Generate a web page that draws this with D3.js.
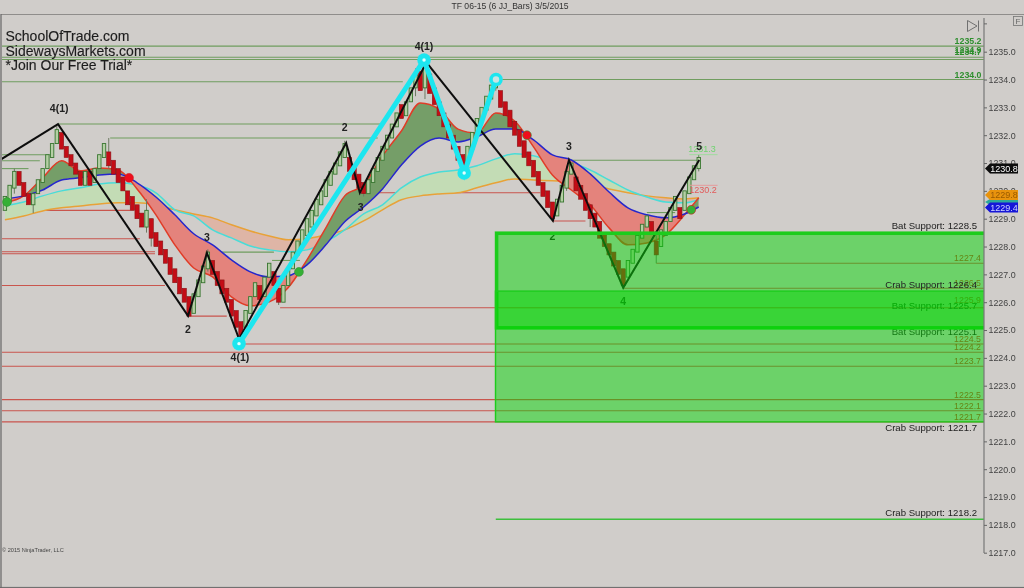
<!DOCTYPE html>
<html><head><meta charset="utf-8">
<script src="https://d3js.org/d3.v7.min.js"></script>
<style>html,body{margin:0;padding:0;background:#d0cdca;overflow:hidden}svg{display:block}text{font-family:"Liberation Sans",Arial,sans-serif}</style>
</head><body><svg id="c" width="1024" height="588"></svg>
<script>
// ---- data ----
const timeLabels = ["08:04:56","08:11:37","08:39:24","09:30:04","09:31:58","09:33:21","09:36:26","09:44:02","09:48:55","09:54:53","10:05:17","10:45:31","11:15:37","12:01:08","12:20:02","12:43:32","12:55:38","13:20:27","13:39:30","14:16:17","14:58:45","15:41:13","16:23:41","17:06:09","17:48:37","18:31:05"];
const barOpen = [1229.3,1229.6,1230.1,1230.7,1230.3,1229.9,1229.5,1229.9,1230.3,1230.8,1231.2,1231.7,1232.1,1231.6,1231.3,1231.0,1230.7,1230.2,1230.7,1230.3,1230.8,1231.2,1231.4,1231.1,1230.8,1230.5,1230.0,1229.8,1229.5,1229.2,1228.7,1229.0,1228.5,1228.2,1227.9,1227.6,1227.2,1226.9,1226.5,1226.2,1225.6,1226.2,1226.7,1227.2,1227.5,1227.1,1226.8,1226.5,1226.1,1225.7,1225.3,1225.1,1225.6,1226.2,1226.6,1226.2,1226.9,1227.1,1226.5,1226.0,1226.6,1227.2,1227.7,1228.0,1228.4,1228.7,1229.1,1229.5,1229.8,1230.2,1230.6,1230.9,1231.2,1231.2,1230.9,1230.6,1230.3,1229.9,1230.3,1230.7,1231.1,1231.5,1231.9,1232.3,1233.1,1232.7,1233.2,1233.7,1234.3,1233.7,1234.2,1233.7,1233.2,1232.8,1232.4,1232.0,1231.6,1231.3,1231.0,1231.5,1232.0,1232.5,1232.9,1233.3,1233.7,1233.6,1233.2,1232.9,1232.5,1232.2,1231.8,1231.4,1231.1,1230.7,1230.3,1230.0,1229.6,1229.1,1229.6,1230.1,1230.6,1230.5,1230.2,1229.9,1229.5,1229.2,1228.9,1228.5,1228.1,1227.8,1227.5,1227.2,1226.9,1227.4,1227.8,1228.3,1228.7,1228.9,1228.2,1228.0,1228.4,1228.9,1229.3,1229.4,1229.3,1229.9,1230.4,1230.8];
const barClose = [1229.8,1230.2,1230.7,1230.2,1229.8,1229.5,1229.9,1230.4,1230.8,1231.3,1231.7,1232.2,1231.5,1231.2,1230.9,1230.6,1230.2,1230.7,1230.2,1230.8,1231.3,1231.7,1230.9,1230.6,1230.3,1230.0,1229.5,1229.3,1229.0,1228.7,1229.3,1228.3,1228.0,1227.7,1227.4,1227.0,1226.7,1226.3,1226.0,1225.5,1226.3,1226.8,1227.3,1227.8,1227.0,1226.6,1226.3,1226.0,1225.5,1225.1,1224.8,1225.7,1226.2,1226.7,1226.1,1226.9,1227.4,1226.6,1226.0,1226.6,1227.2,1227.8,1228.2,1228.6,1229.0,1229.3,1229.7,1230.0,1230.4,1230.7,1231.0,1231.4,1231.7,1230.7,1230.4,1230.1,1229.9,1230.4,1230.8,1231.2,1231.6,1232.0,1232.4,1232.8,1232.6,1233.2,1233.7,1234.2,1233.6,1234.5,1233.5,1233.1,1232.7,1232.3,1231.9,1231.5,1231.1,1230.7,1231.6,1232.1,1232.6,1233.0,1233.4,1233.8,1234.0,1233.0,1232.7,1232.3,1232.0,1231.6,1231.2,1230.9,1230.5,1230.2,1229.8,1229.4,1229.0,1229.7,1230.2,1230.7,1231.0,1230.0,1229.7,1229.3,1229.0,1228.7,1228.3,1228.0,1227.7,1227.3,1227.0,1226.6,1227.5,1227.9,1228.4,1228.8,1229.1,1228.5,1227.7,1228.6,1228.9,1229.4,1229.8,1229.0,1230.0,1230.5,1230.9,1231.2];
const wickIdx  = [2,6,11,22,30,31,43,58,72,76,87,89,97,104,119,124,138,147];
const wickHigh = [1230.8,1229.9,1232.4,1231.9,1229.7,1229.0,1227.9,1226.5,1231.8,1230.3,1234.4,1234.6,1231.3,1234.1,1230.9,1229.3,1228.4,1231.3];
const wickLow  = [1229.9,1229.2,1231.7,1230.8,1228.5,1228.0,1227.1,1225.9,1231.2,1229.8,1233.4,1233.3,1230.6,1233.6,1230.0,1228.7,1227.4,1230.7];

const maIdx = [0,4,8,12,16,20,24,28,32,36,40,44,48,52,56,60,64,68,72,76,80,84,88,92,96,100,104,108,112,116,120,124,128,132,136,140,144,147];
const maRed = [1229.57,1229.82,1230.47,1231.08,1230.72,1230.82,1230.75,1230.07,1229.14,1228.06,1227.23,1226.91,1226.19,1225.87,1226.01,1226.52,1227.52,1228.67,1229.82,1230.21,1231.26,1232.15,1233.16,1232.94,1232.22,1232.08,1232.80,1232.51,1231.58,1230.57,1230.03,1229.50,1228.67,1228.06,1228.13,1228.42,1229.14,1229.75];
const maBlue = [1229.71,1229.82,1230.03,1230.39,1230.47,1230.57,1230.61,1230.29,1229.78,1229.14,1228.46,1228.06,1227.52,1227.09,1226.91,1226.95,1227.34,1228.06,1228.89,1229.42,1230.07,1230.93,1231.61,1231.90,1231.76,1231.94,1232.22,1232.22,1231.83,1231.29,1231.11,1230.61,1229.96,1229.39,1229.14,1229.03,1229.17,1229.42];
const maCyan = [1229.46,1229.60,1229.82,1230.00,1230.11,1230.25,1230.29,1230.21,1229.93,1229.32,1229.10,1228.60,1228.31,1228.02,1227.88,1227.81,1227.88,1228.17,1228.60,1229.17,1229.50,1230.11,1230.50,1230.68,1230.75,1230.90,1231.15,1231.33,1231.26,1231.08,1231.00,1230.75,1230.39,1230.03,1229.78,1229.60,1229.57,1229.68];
const maOrange = [1228.96,1229.10,1229.28,1229.39,1229.46,1229.53,1229.57,1229.57,1229.50,1229.32,1229.17,1229.03,1228.78,1228.56,1228.38,1228.24,1228.28,1228.42,1228.60,1228.92,1229.32,1229.68,1229.82,1229.89,1229.93,1230.11,1230.29,1230.43,1230.39,1230.36,1230.32,1230.21,1230.07,1229.93,1229.82,1229.75,1229.71,1229.75];

const zigIdx = [-1.04,11.25,38.8,42.8,49.6,72.3,75.2,89.3,116.1,119.5,131,147.1];
const zigPrice = [1231.11,1232.40,1225.51,1227.77,1224.68,1231.72,1229.93,1234.62,1228.92,1231.11,1226.52,1231.11];
const cyanIdx = [49.6,88.8,97.3,104.05];
const cyanPrice = [1224.51,1234.70,1230.64,1234.0];
const sigIdx = [0.45,26.3,62.3,110.6,145.4];
const sigPrice = [1229.6,1230.47,1227.09,1232.0,1229.32];
const sigColor = ["#35b035","#ee0f1c","#35b035","#ee0f1c","#35b035"];

const waveText = ["4(1)","2","3","4(1)","2","3","4(1)","3","2","4"];
const waveIdx = [11.5,38.8,42.8,49.8,72,75.4,88.8,119.5,116,131];
const wavePrice = [1232.95,1225.02,1228.32,1224.0,1232.28,1229.42,1235.2,1231.6,1228.35,1226.02];

const END = 207.4, LEFT = -1.04;
const greenPrice = [1235.2,1234.8,1234.72,1233.92,1234.0,1232.4,1231.9,1231.3,1231.08,1230.8,1231.1,1227.8,1229.22,1227.5];
const greenFrom  = [LEFT,LEFT,LEFT,LEFT,104,11.3,22.3,LEFT,LEFT,LEFT,119.7,43,136,56.6];
const greenTo    = [END,END,END,84.3,END,79.5,79,9.6,7.4,5,147,57,142,62.5];
const redPrice = [1228.28,1227.81,1227.74,1226.6,1225.5,1229.3,1230.03,1225.8,1224.5,1224.2,1223.7,1222.5,1222.1,1221.7,1229.93,1230.65,1228.92,1226.5,1227.4];
const redFrom  = [LEFT,LEFT,LEFT,LEFT,39,5.1,17,58.3,49.6,LEFT,LEFT,LEFT,LEFT,LEFT,75.2,97.3,116,131,138];
const redTo    = [28.6,31.8,31.8,33.9,47,26.5,24.4,END,END,END,END,END,END,END,113.4,111.2,123,END,END];
const greenTags = ["1235.2","1234.9","1234.7","1234.0"];
const greenTagPrice = [1235.2,1234.88,1234.82,1234.0];
const redTags = ["1227.4","1226.5","1225.9","1224.5","1224.2","1223.7","1222.5","1222.1","1221.7"];
const redTagPrice = [1227.4,1226.5,1225.9,1224.5,1224.2,1223.7,1222.5,1222.1,1221.7];

const zoneTop = [1228.5,1226.4];
const zoneBottom = [1225.1,1221.7];
const supportLine = 1218.2;
const markerPrice = [1229.6,1230.8,1229.85,1229.4];
const markerText = ["","1230.8","1229.8","1229.4"];
const markerFill = ["#2ea89a","#0a0a0a","#e8930f","#1212d8"];
const markerInk = ["#fff","#fff","#9a5a00","#cfd4ff"];

// ---- scales ----
const x = d3.scaleLinear().domain([0,200]).range([4.9,948.9]);
const y = d3.scaleLinear().domain([1235,1217]).range([51.7,552.7]);
const svg = d3.select("#c");
const BG="#d0cdca";
svg.append("rect").attr("width",1024).attr("height",588).attr("fill",BG);
const defs = svg.append("defs");
defs.append("filter").attr("id","soft").attr("x","-2%").attr("y","-2%").attr("width","104%").attr("height","104%")
  .append("feGaussianBlur").attr("stdDeviation",0.4);
defs.append("clipPath").attr("id","plot").append("rect").attr("x",2).attr("y",15).attr("width",982).attr("height",538);
defs.append("clipPath").attr("id","xclip").append("rect").attr("x",2).attr("y",550).attr("width",1022).attr("height",30);
const root = svg.append("g").attr("filter","url(#soft)");

// title + frame
root.append("text").attr("x",510).attr("y",9).attr("text-anchor","middle").attr("font-size",8.6).attr("fill","#333").text("TF 06-15 (6 JJ_Bars)  3/5/2015");
root.append("line").attr("x1",1).attr("x2",1024).attr("y1",14.5).attr("y2",14.5).attr("stroke","#8f8d8b").attr("stroke-width",1.2);
root.append("line").attr("x1",1).attr("x2",1).attr("y1",14).attr("y2",588).attr("stroke","#666").attr("stroke-width",1.2);
root.append("line").attr("x1",0).attr("x2",1024).attr("y1",587.4).attr("y2",587.4).attr("stroke","#666");

const plot = root.append("g").attr("clip-path","url(#plot)");

// levels
const drawLevels=(price,from,to,color)=>plot.append("g").selectAll("line").data(price).join("line")
  .attr("x1",(d,i)=>x(from[i])).attr("x2",(d,i)=>x(to[i])).attr("y1",d=>y(d)).attr("y2",d=>y(d))
  .attr("stroke",color).attr("stroke-width",1.1);
drawLevels(greenPrice,greenFrom,greenTo,"#6f9d5f");
drawLevels(redPrice,redFrom,redTo,"#c9544e");
plot.append("g").selectAll("text").data(greenTags).join("text").attr("x",981.5).attr("y",(d,i)=>y(greenTagPrice[i])-2)
  .attr("text-anchor","end").attr("font-size",8.8).attr("font-weight","bold").attr("fill","#2f8f2f").text(d=>d);
plot.append("g").selectAll("text").data(redTags).join("text").attr("x",981).attr("y",(d,i)=>y(redTagPrice[i])-2)
  .attr("text-anchor","end").attr("font-size",8.8).attr("fill","#c0392b").text(d=>d);

// moving-average bands
const px = (_,i)=>x(maIdx[i]);
const curve = d3.curveMonotoneX;
function band(id,top,bot,colUp,colDn){
  const above=d3.area().x(px).y0(0).y1((_,i)=>y(bot[i])).curve(curve);
  const below=d3.area().x(px).y0(588).y1((_,i)=>y(bot[i])).curve(curve);
  const between=d3.area().x(px).y0((_,i)=>y(bot[i])).y1((_,i)=>y(top[i])).curve(curve);
  defs.append("clipPath").attr("id",id+"a").append("path").attr("d",above(maIdx));
  defs.append("clipPath").attr("id",id+"b").append("path").attr("d",below(maIdx));
  plot.append("path").attr("d",between(maIdx)).attr("fill",colUp).attr("clip-path",`url(#${id}a)`);
  plot.append("path").attr("d",between(maIdx)).attr("fill",colDn).attr("clip-path",`url(#${id}b)`);
}
const maLine=(s,c)=>plot.append("path").attr("fill","none").attr("stroke",c).attr("stroke-width",1.5)
  .attr("d",d3.line().x(px).y((_,i)=>y(s[i])).curve(curve)(maIdx));
band("slow",maCyan,maOrange,"#c3dcb5","#deb5a6");
maLine(maOrange,"#e8a238");maLine(maCyan,"#49dcd8");
band("fast",maRed,maBlue,"#749e68","#e4837b");
maLine(maRed,"#e03c28");maLine(maBlue,"#2626cc");

// bars
const isUp=(d,i)=>d>=barOpen[i];
const gb=plot.append("g");
gb.selectAll("line").data(wickIdx).join("line").attr("x1",d=>x(d)).attr("x2",d=>x(d))
  .attr("y1",(d,i)=>y(wickHigh[i])).attr("y2",(d,i)=>y(wickLow[i])).attr("stroke","#6d7a62").attr("stroke-width",1);
gb.selectAll("rect").data(barClose).join("rect")
  .attr("x",(d,i)=>x(i)-(isUp(d,i)?1.7:2.1)).attr("width",(d,i)=>isUp(d,i)?3.4:4.2)
  .attr("y",(d,i)=>y(Math.max(d,barOpen[i]))).attr("height",(d,i)=>Math.abs(y(d)-y(barOpen[i])))
  .attr("fill",(d,i)=>isUp(d,i)?"#b5cfa5":"#c40f18")
  .attr("stroke",(d,i)=>isUp(d,i)?"#37752f":"#8a1414").attr("stroke-width",(d,i)=>isUp(d,i)?0.9:0.6);

// zigzag and wave pattern
plot.append("path").attr("fill","none").attr("stroke","#111").attr("stroke-width",2)
  .attr("d",d3.line().x(d=>x(d)).y((d,i)=>y(zigPrice[i]))(zigIdx));
plot.append("path").attr("fill","none").attr("stroke","#1fe6ef").attr("stroke-width",5)
  .attr("d",d3.line().x(d=>x(d)).y((d,i)=>y(cyanPrice[i]))(cyanIdx));
const cy=plot.append("g");
cy.selectAll("circle.o").data(cyanIdx).join("circle").attr("class","o").attr("cx",d=>x(d)).attr("cy",(d,i)=>y(cyanPrice[i]))
  .attr("r",6.8).attr("fill","#1fe6ef");
cy.selectAll("circle.n").data(cyanIdx).join("circle").attr("class","n").attr("cx",d=>x(d)).attr("cy",(d,i)=>y(cyanPrice[i]))
  .attr("r",(d,i)=>i==3?3.2:1.7).attr("fill",(d,i)=>i==3?"#c9e4e2":"#e6ffff");

// labels below the zones
const label=(t,v,dy,col)=>plot.append("text").attr("x",977).attr("y",y(v)+dy).attr("text-anchor","end")
  .attr("font-size",9.6).attr("fill",col).text(t);
label("Bat Support: 1225.7",1225.7,-2,"#222");
label("Bat Support: 1225.1",1225.1,7.5,"#222");
waveText.forEach((d,i)=>{plot.append("text").attr("x",x(waveIdx[i])).attr("y",y(wavePrice[i])+3.6).attr("text-anchor","middle")
  .attr("font-size",10.5).attr("font-weight","bold").attr("fill","#222").text(d);});

// support zones (the right side runs under the price axis)
zoneTop.forEach((t,i)=>{
  const sw=i==0?3.6:1.4;
  plot.append("rect").attr("x",x(104)+sw/2-1).attr("width",x(END)-x(104)+8).attr("y",y(t)+(i==0?0.6:0)).attr("height",y(zoneBottom[i])-y(t))
    .attr("fill","#00d800").attr("fill-opacity",0.48).attr("stroke","#1fcc1f").attr("stroke-width",sw);
});
plot.append("line").attr("x1",x(104)).attr("x2",x(END)).attr("y1",y(supportLine)).attr("y2",y(supportLine)).attr("stroke","#3cbf3c").attr("stroke-width",1.6);
label("Bat Support: 1228.5",1228.5,-3.5,"#222");
label("Crab Support: 1226.4",1226.4,-3,"#222");
label("Crab Support: 1221.7",1221.7,9,"#222");
label("Crab Support: 1218.2",1218.2,-3,"#222");

// small last-bar tags
plot.append("line").attr("x1",x(145)).attr("x2",x(151)).attr("y1",y(1231.3)).attr("y2",y(1231.3)).attr("stroke","#9fdc9f");
plot.append("text").attr("x",702).attr("y",y(1231.3)-3).attr("text-anchor","middle").attr("font-size",9).attr("fill","#6fd46f").text("1231.3");
plot.append("line").attr("x1",x(145)).attr("x2",x(151)).attr("y1",y(1230.2)).attr("y2",y(1230.2)).attr("stroke","#e69a9a");
plot.append("text").attr("x",703).attr("y",y(1230.2)+8).attr("text-anchor","middle").attr("font-size",9).attr("fill","#e25a5a").text("1230.2");
plot.append("text").attr("x",x(147.1)).attr("y",y(1231.6)+3.6).attr("text-anchor","middle").attr("font-size",10.5).attr("font-weight","bold").attr("fill","#222").text("5");

// signal dots
plot.append("g").selectAll("circle").data(sigIdx).join("circle").attr("cx",d=>x(d)).attr("cy",(d,i)=>y(sigPrice[i])).attr("r",4.4)
  .attr("fill",(d,i)=>sigColor[i]).attr("stroke",(d,i)=>i%3==1?"#d01a1a":"#2f8f2f").attr("stroke-width",0.6);

// branding
["SchoolOfTrade.com","SidewaysMarkets.com","*Join Our Free Trial*"].forEach((t,i)=>{
  root.append("text").attr("x",5.5).attr("y",[41,56,70][i]).attr("font-size",14).attr("fill","#1e1e1e").attr("stroke","#1e1e1e").attr("stroke-width",0.15).text(t);
});
root.append("text").attr("x",2).attr("y",552).attr("font-size",5.6).attr("fill","#444").text("© 2015 NinjaTrader, LLC");

// axes
const xAxis=d3.axisBottom(x).tickValues(timeLabels.map((d,i)=>i*8)).tickFormat((d,i)=>timeLabels[i]).tickSize(2).tickPadding(4);
const gx=root.append("g").attr("transform","translate(0,553)").attr("clip-path","url(#xclip)").call(xAxis);
gx.select(".domain").attr("d","M0,0H984").attr("stroke","#444");
gx.selectAll("line").attr("stroke","#555");
gx.selectAll("text").attr("font-size",8.7).attr("fill","#333").attr("font-family",'"Liberation Sans",Arial,sans-serif').attr("dy","0.71em");
const yTicks=d3.range(1217,1236);
const yAxis=d3.axisRight(y).tickValues(yTicks).tickFormat(d3.format(".1f")).tickSize(3).tickPadding(1.5);
const gy=root.append("g").attr("transform","translate(984,0)").call(yAxis);
gy.select(".domain").attr("d","M0,18V553").attr("stroke","#777").attr("stroke-width",1.2);
gy.selectAll("line").attr("stroke","#666");
gy.selectAll("text").attr("font-size",8.9).attr("fill","#444").attr("font-family",'"Liberation Sans",Arial,sans-serif');
gy.append("line").attr("x2",3).attr("y1",y(1236)).attr("y2",y(1236)).attr("stroke","#666");

// price markers
const mk=root.append("g");
markerPrice.forEach((p,i)=>{
  const c=y(p),h=i==0?3:5;
  mk.append("polygon").attr("points",`985,${c} 990,${c-h} 1018,${c-h} 1018,${c+h} 990,${c+h}`).attr("fill",markerFill[i]);
  mk.append("text").attr("x",1004).attr("y",c+3.2).attr("text-anchor","middle").attr("font-size",9).attr("fill",markerInk[i]).text(markerText[i]);
});

// corner controls
root.append("rect").attr("x",1013.5).attr("y",16.5).attr("width",9).attr("height",9).attr("fill","none").attr("stroke","#777").attr("stroke-width",0.8);
root.append("text").attr("x",1018).attr("y",24).attr("text-anchor","middle").attr("font-size",8).attr("fill","#666").text("F");
root.append("path").attr("d","M967.5,20.5L977,26L967.5,31.5Z M978.5,20.5V31.5").attr("fill","none").attr("stroke","#6f6f6f").attr("stroke-width",1);
</script></body></html>
